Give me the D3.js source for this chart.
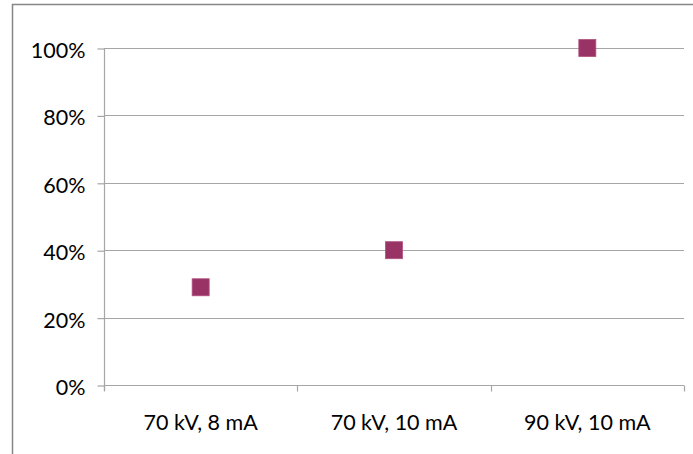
<!DOCTYPE html>
<html>
<head>
<meta charset="utf-8">
<script src="https://cdn.jsdelivr.net/npm/d3@7"></script>
<style>
  html, body { margin: 0; padding: 0; background: #fff; }
  svg { display: block; }
  text { font-family: Lato, "Open Sans", sans-serif; fill: #000; }
</style>
</head>
<body>
<svg id="chart" width="693" height="454"></svg>
<script>
// Categories and percentage values
const categories = ["70 kV, 8 mA", "70 kV, 10 mA", "90 kV, 10 mA"];
const values = [29, 40, 100];
const yTicks = [0, 20, 40, 60, 80, 100];

const svg = d3.select("#chart");
const W = 693, H = 454;
const plot = { left: 104, right: 684, top: 48, bottom: 385 };
const fontSize = "21.5px";

// outer chart frame
svg.append("rect")
  .attr("x", 12.5).attr("y", 4.5)
  .attr("width", W + 10).attr("height", H + 10)
  .attr("fill", "none").attr("stroke", "#868686").attr("stroke-width", 1.5);

const x = d3.scaleBand().domain(categories).range([plot.left, plot.right]).paddingInner(0).paddingOuter(0);
const y = d3.scaleLinear().domain([0, 100]).range([plot.bottom, plot.top]);

// horizontal gridlines
svg.append("g").selectAll("line").data(yTicks.filter(d => d > 0)).join("line")
  .attr("x1", plot.left).attr("x2", plot.right)
  .attr("y1", d => Math.round(y(d)) + 0.5).attr("y2", d => Math.round(y(d)) + 0.5)
  .attr("stroke", "#a6a6a6").attr("stroke-width", 1.2);

// y axis
const yAxis = d3.axisLeft(y).tickValues(yTicks).tickFormat(d => d + "%").tickSize(7).tickPadding(12);
const gy = svg.append("g").attr("transform", `translate(${plot.left + 0.5},0.5)`).call(yAxis);
gy.select(".domain").attr("stroke", "#a6a6a6").attr("stroke-width", 1.2).attr("d", `M0,${plot.top}V${plot.bottom + 5}`);
gy.selectAll(".tick line").attr("stroke", "#a6a6a6").attr("stroke-width", 1.2);
gy.selectAll(".tick text").style("font-size", fontSize).style("font-family", "Lato, sans-serif")
  .attr("fill", "#000").attr("dy", "0.42em");

// x axis
const xAxis = d3.axisBottom(x).tickSize(0).tickPadding(29);
const gx = svg.append("g").attr("transform", `translate(0,${plot.bottom + 0.5})`).call(xAxis);
gx.select(".domain").attr("stroke", "#a6a6a6").attr("stroke-width", 1.2).attr("d", `M${plot.left},0H${plot.right}`);
gx.selectAll(".tick text").style("font-size", fontSize).style("font-family", "Lato, sans-serif").attr("fill", "#000");
// category boundary tick marks
const bounds = categories.map(c => x(c)).concat([x(categories[categories.length - 1]) + x.bandwidth()]);
gx.append("g").selectAll("line").data(bounds).join("line")
  .attr("x1", d => Math.round(d) + 0.5).attr("x2", d => Math.round(d) + 0.5)
  .attr("y1", 0).attr("y2", 6)
  .attr("stroke", "#a6a6a6").attr("stroke-width", 1.2);

// square markers
const size = 17;
svg.append("g").selectAll("rect").data(values).join("rect")
  .attr("x", (d, i) => x(categories[i]) + x.bandwidth() / 2 - size / 2)
  .attr("y", d => y(d) - size / 2)
  .attr("width", size).attr("height", size)
  .attr("fill", "#993366").attr("stroke", "#b0507e").attr("stroke-width", 0.8);
</script>
</body>
</html>
